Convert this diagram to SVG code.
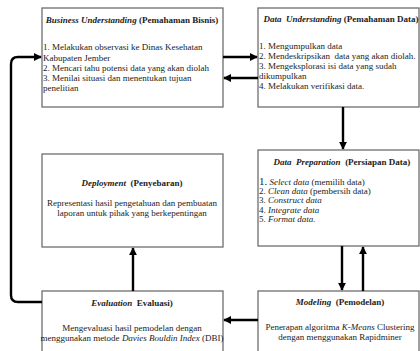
<svg xmlns="http://www.w3.org/2000/svg" width="420" height="351" viewBox="0 0 420 351">
<defs>
<marker id="ah" viewBox="0 0 10 10" refX="9" refY="5" markerWidth="3.4" markerHeight="3.4" orient="auto" markerUnits="strokeWidth">
<path d="M0,0 L10,5 L0,10 z" fill="#000"/>
</marker>
<style>
.box{fill:#fff;stroke:#6e6e6e;stroke-width:1.3}
text{font-family:"Liberation Serif","Times New Roman",serif;font-size:9px;fill:#222;white-space:pre}
.t{font-weight:bold}
.c{text-anchor:middle}
.i{font-style:italic}
.conn path{fill:none;stroke:#000;stroke-width:2.4;marker-end:url(#ah)}
</style>
</defs>
<rect width="420" height="351" fill="#fff"/>
<g id="business-understanding">
<rect class="box" x="42" y="8" width="181" height="99"/>
<text class="t c" x="132" y="23" font-size="8.8"><tspan class="i">Business Understanding</tspan> (Pemahaman Bisnis)</text>
<text x="43" y="50">1. Melakukan observasi ke Dinas Kesehatan</text>
<text x="43" y="60.5">Kabupaten Jember</text>
<text x="43" y="70.5">2. Mencari tahu potensi data yang akan diolah</text>
<text x="43" y="80.5">3. Menilai situasi dan menentukan tujuan</text>
<text x="43" y="90.5">penelitian</text>
</g>
<g id="data-understanding">
<rect class="box" x="258" y="8" width="161" height="99"/>
<text class="t c" x="341" y="22" font-size="8.4"><tspan class="i">Data  Understanding</tspan> (Pemahaman Data)</text>
<text x="259" y="49">1. Mengumpulkan data</text>
<text x="259" y="59">2. Mendeskripsikan  data yang akan diolah.</text>
<text x="259" y="69">3. Mengeksplorasi isi data yang sudah</text>
<text x="259" y="79">dikumpulkan</text>
<text x="259" y="89">4. Melakukan verifikasi data.</text>
</g>
<g id="data-preparation">
<rect class="box" x="258" y="150" width="161" height="96"/>
<text class="t c" x="342" y="165" font-size="8.8"><tspan class="i">Data  Preparation</tspan>  (Persiapan Data)</text>
<text x="259" y="185"><tspan font-size="11">1.</tspan> <tspan class="i">Select data</tspan> (memilih data)</text>
<text x="259" y="194">2. <tspan class="i">Clean data</tspan> (pembersih data)</text>
<text x="259" y="203">3. <tspan class="i">Construct data</tspan></text>
<text x="259" y="212.5">4. <tspan class="i">Integrate data</tspan></text>
<text x="259" y="221.5">5. <tspan class="i">Format data.</tspan></text>
</g>
<g id="deployment">
<rect class="box" x="42" y="154" width="181" height="93"/>
<text class="t c" x="132" y="186"><tspan class="i">Deployment</tspan>  (Penyebaran)</text>
<text class="c" x="132" y="206">Representasi hasil pengetahuan dan pembuatan</text>
<text class="c" x="132" y="216">laporan untuk pihak yang berkepentingan</text>
</g>
<g id="evaluation">
<rect class="box" x="42" y="291" width="181" height="80"/>
<text class="t c" x="132" y="306"><tspan class="i">Evaluation</tspan>  Evaluasi)</text>
<text class="c" x="132" y="331">Mengevaluasi hasil pemodelan dengan</text>
<text class="c" x="132" y="340.5">menggunakan metode <tspan class="i">Davies Bouldin Index</tspan> (DBI)</text>
</g>
<g id="modeling">
<rect class="box" x="258" y="291" width="161" height="80"/>
<text class="t c" x="340" y="305"><tspan class="i">Modeling</tspan>  (Pemodelan)</text>
<text class="c" x="340" y="330">Penerapan algoritma <tspan class="i">K-Means</tspan> Clustering</text>
<text class="c" x="340" y="340">dengan menggunakan Rapidminer</text>
</g>
<g id="connectors" class="conn">
<path d="M223,57 H257"/>
<path d="M258,78 H224"/>
<path d="M343,107 V149"/>
<path d="M342,246 V290"/>
<path d="M363,291 V247"/>
<path d="M258,320 H224"/>
<path d="M133,291 V248"/>
<path d="M42,302 H18 Q11,302 11,295 V64 Q11,57 18,57 H41"/>
</g>
</svg>
